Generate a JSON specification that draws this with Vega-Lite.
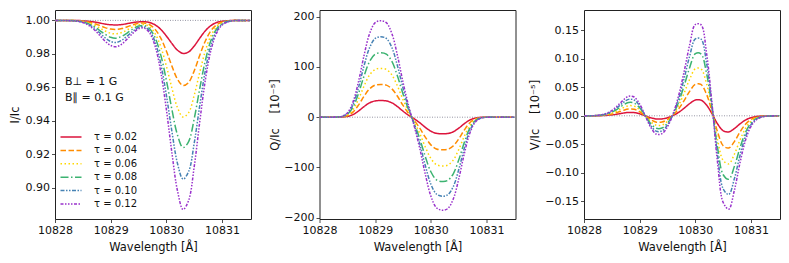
{
"$schema":"https://vega.github.io/schema/vega-lite/v6.json",
"background":"white",
"padding":{"left":8,"top":9,"right":5,"bottom":5},
"config":{
"font":"DejaVu Sans",
"view":{"stroke":"#222","strokeWidth":1},
"axis":{"domain":false,"grid":false,"tickSize":3.5,"tickWidth":0.8,"tickColor":"#222","tickCount":12,"labelFont":"DejaVu Sans","labelFontSize":11,"labelColor":"#111","labelPadding":2,"labelFlush":false,"labelOverlap":false,"titleFont":"DejaVu Sans","titleFontSize":11.5,"titleFontWeight":"normal","titleColor":"#111"},
"axisX":{"titlePadding":6},
"axisY":{"titlePadding":4},
"legend":{"orient":"none","legendX":8,"legendY":119,"title":null,"symbolType":"M-1.5,0H1.5","symbolSize":196,"symbolStrokeWidth":1.5,"labelFont":"DejaVu Sans","labelFontSize":10,"labelColor":"#111","rowPadding":0.4,"labelOffset":15,"padding":0}
},
"datasets":{"d":[
{"x":10828.0,"t":"0.02","I":1,"Q":0,"V":0},{"x":10828.0,"t":"0.04","I":1,"Q":0,"V":0},{"x":10828.0,"t":"0.06","I":1,"Q":0,"V":0},{"x":10828.0,"t":"0.08","I":1,"Q":0,"V":0},{"x":10828.0,"t":"0.10","I":1,"Q":0,"V":0},{"x":10828.0,"t":"0.12","I":1,"Q":0,"V":0},
{"x":10828.1,"t":"0.02","I":1,"Q":0,"V":0},{"x":10828.1,"t":"0.04","I":1,"Q":0,"V":0},{"x":10828.1,"t":"0.06","I":1,"Q":0,"V":0.0001},{"x":10828.1,"t":"0.08","I":1,"Q":0,"V":0.0001},{"x":10828.1,"t":"0.10","I":1,"Q":0,"V":0.0001},{"x":10828.1,"t":"0.12","I":1,"Q":0,"V":0.0001},
{"x":10828.2,"t":"0.02","I":1,"Q":0,"V":0.0001},{"x":10828.2,"t":"0.04","I":1,"Q":0,"V":0.0002},{"x":10828.2,"t":"0.06","I":0.9999,"Q":0,"V":0.0003},{"x":10828.2,"t":"0.08","I":0.9999,"Q":0,"V":0.0003},{"x":10828.2,"t":"0.10","I":0.9999,"Q":0,"V":0.0004},{"x":10828.2,"t":"0.12","I":0.9999,"Q":0,"V":0.0005},
{"x":10828.3,"t":"0.02","I":1,"Q":0,"V":0.0003},{"x":10828.3,"t":"0.04","I":0.9999,"Q":0.1,"V":0.0006},{"x":10828.3,"t":"0.06","I":0.9999,"Q":0.1,"V":0.0008},{"x":10828.3,"t":"0.08","I":0.9999,"Q":0.1,"V":0.0011},{"x":10828.3,"t":"0.10","I":0.9998,"Q":0.1,"V":0.0013},{"x":10828.3,"t":"0.12","I":0.9998,"Q":0.2,"V":0.0016},
{"x":10828.4,"t":"0.02","I":0.9999,"Q":0.3,"V":0.0007},{"x":10828.4,"t":"0.04","I":0.9998,"Q":0.5,"V":0.0014},{"x":10828.4,"t":"0.06","I":0.9997,"Q":0.8,"V":0.0021},{"x":10828.4,"t":"0.08","I":0.9997,"Q":1.1,"V":0.0028},{"x":10828.4,"t":"0.10","I":0.9996,"Q":1.3,"V":0.0035},{"x":10828.4,"t":"0.12","I":0.9995,"Q":1.6,"V":0.0041},
{"x":10828.5,"t":"0.02","I":0.9998,"Q":1.5,"V":0.0016},{"x":10828.5,"t":"0.04","I":0.9996,"Q":2.9,"V":0.0032},{"x":10828.5,"t":"0.06","I":0.9993,"Q":4.3,"V":0.0048},{"x":10828.5,"t":"0.08","I":0.9991,"Q":5.7,"V":0.0063},{"x":10828.5,"t":"0.10","I":0.9989,"Q":7.1,"V":0.0078},{"x":10828.5,"t":"0.12","I":0.9987,"Q":8.5,"V":0.0093},
{"x":10828.6,"t":"0.02","I":0.9995,"Q":5.1,"V":0.0030},{"x":10828.6,"t":"0.04","I":0.9990,"Q":10.1,"V":0.0060},{"x":10828.6,"t":"0.06","I":0.9985,"Q":15.0,"V":0.0090},{"x":10828.6,"t":"0.08","I":0.9980,"Q":19.8,"V":0.0119},{"x":10828.6,"t":"0.10","I":0.9976,"Q":24.7,"V":0.0148},{"x":10828.6,"t":"0.12","I":0.9971,"Q":29.7,"V":0.0175},
{"x":10828.7,"t":"0.02","I":0.9991,"Q":12.2,"V":0.0047},{"x":10828.7,"t":"0.04","I":0.9981,"Q":24.0,"V":0.0094},{"x":10828.7,"t":"0.06","I":0.9972,"Q":35.7,"V":0.0140},{"x":10828.7,"t":"0.08","I":0.9964,"Q":47.1,"V":0.0185},{"x":10828.7,"t":"0.10","I":0.9955,"Q":58.8,"V":0.0229},{"x":10828.7,"t":"0.12","I":0.9946,"Q":70.6,"V":0.0272},
{"x":10828.8,"t":"0.02","I":0.9985,"Q":21.1,"V":0.0059},{"x":10828.8,"t":"0.04","I":0.9970,"Q":41.6,"V":0.0118},{"x":10828.8,"t":"0.06","I":0.9955,"Q":62.0,"V":0.0176},{"x":10828.8,"t":"0.08","I":0.9941,"Q":81.9,"V":0.0233},{"x":10828.8,"t":"0.10","I":0.9926,"Q":102.3,"V":0.0288},{"x":10828.8,"t":"0.12","I":0.9912,"Q":122.8,"V":0.0342},
{"x":10828.9,"t":"0.02","I":0.9978,"Q":28.6,"V":0.0057},{"x":10828.9,"t":"0.04","I":0.9957,"Q":56.4,"V":0.0114},{"x":10828.9,"t":"0.06","I":0.9937,"Q":84.0,"V":0.0170},{"x":10828.9,"t":"0.08","I":0.9917,"Q":110.9,"V":0.0224},{"x":10828.9,"t":"0.10","I":0.9896,"Q":138.5,"V":0.0278},{"x":10828.9,"t":"0.12","I":0.9876,"Q":166.3,"V":0.0330},
{"x":10829.0,"t":"0.02","I":0.9974,"Q":32.4,"V":0.0035},{"x":10829.0,"t":"0.04","I":0.9948,"Q":63.8,"V":0.0071},{"x":10829.0,"t":"0.06","I":0.9923,"Q":95.0,"V":0.0106},{"x":10829.0,"t":"0.08","I":0.9899,"Q":125.5,"V":0.0140},{"x":10829.0,"t":"0.10","I":0.9874,"Q":156.7,"V":0.0174},{"x":10829.0,"t":"0.12","I":0.9850,"Q":188.1,"V":0.0206},
{"x":10829.1,"t":"0.02","I":0.9973,"Q":33.0,"V":0},{"x":10829.1,"t":"0.04","I":0.9946,"Q":65.1,"V":0},{"x":10829.1,"t":"0.06","I":0.9920,"Q":97.0,"V":0},{"x":10829.1,"t":"0.08","I":0.9894,"Q":128.1,"V":0},{"x":10829.1,"t":"0.10","I":0.9868,"Q":159.9,"V":0},{"x":10829.1,"t":"0.12","I":0.9843,"Q":192.0,"V":0},
{"x":10829.2,"t":"0.02","I":0.9975,"Q":32.4,"V":-0.0035},{"x":10829.2,"t":"0.04","I":0.9951,"Q":63.8,"V":-0.0070},{"x":10829.2,"t":"0.06","I":0.9928,"Q":95.0,"V":-0.0105},{"x":10829.2,"t":"0.08","I":0.9905,"Q":125.5,"V":-0.0139},{"x":10829.2,"t":"0.10","I":0.9882,"Q":156.7,"V":-0.0172},{"x":10829.2,"t":"0.12","I":0.9859,"Q":188.1,"V":-0.0204},
{"x":10829.3,"t":"0.02","I":0.9981,"Q":28.6,"V":-0.0055},{"x":10829.3,"t":"0.04","I":0.9962,"Q":56.4,"V":-0.0111},{"x":10829.3,"t":"0.06","I":0.9944,"Q":84.0,"V":-0.0166},{"x":10829.3,"t":"0.08","I":0.9926,"Q":110.9,"V":-0.0219},{"x":10829.3,"t":"0.10","I":0.9908,"Q":138.5,"V":-0.0271},{"x":10829.3,"t":"0.12","I":0.9890,"Q":166.3,"V":-0.0322},
{"x":10829.4,"t":"0.02","I":0.9987,"Q":21.1,"V":-0.0054},{"x":10829.4,"t":"0.04","I":0.9974,"Q":41.6,"V":-0.0108},{"x":10829.4,"t":"0.06","I":0.9961,"Q":62.0,"V":-0.0162},{"x":10829.4,"t":"0.08","I":0.9949,"Q":81.8,"V":-0.0214},{"x":10829.4,"t":"0.10","I":0.9936,"Q":102.2,"V":-0.0265},{"x":10829.4,"t":"0.12","I":0.9924,"Q":122.7,"V":-0.0314},
{"x":10829.5,"t":"0.02","I":0.9991,"Q":11.9,"V":-0.0033},{"x":10829.5,"t":"0.04","I":0.9983,"Q":23.5,"V":-0.0065},{"x":10829.5,"t":"0.06","I":0.9974,"Q":35.0,"V":-0.0097},{"x":10829.5,"t":"0.08","I":0.9966,"Q":46.3,"V":-0.0129},{"x":10829.5,"t":"0.10","I":0.9958,"Q":57.8,"V":-0.0159},{"x":10829.5,"t":"0.12","I":0.9950,"Q":69.4,"V":-0.0189},
{"x":10829.6,"t":"0.02","I":0.9992,"Q":3.8,"V":0.0006},{"x":10829.6,"t":"0.04","I":0.9984,"Q":7.6,"V":0.0012},{"x":10829.6,"t":"0.06","I":0.9976,"Q":11.3,"V":0.0018},{"x":10829.6,"t":"0.08","I":0.9969,"Q":14.9,"V":0.0023},{"x":10829.6,"t":"0.10","I":0.9961,"Q":18.7,"V":0.0029},{"x":10829.6,"t":"0.12","I":0.9954,"Q":22.6,"V":0.0034},
{"x":10829.7,"t":"0.02","I":0.9987,"Q":-3.1,"V":0.0061},{"x":10829.7,"t":"0.04","I":0.9974,"Q":-6.1,"V":0.0123},{"x":10829.7,"t":"0.06","I":0.9962,"Q":-9.2,"V":0.0184},{"x":10829.7,"t":"0.08","I":0.9950,"Q":-12.1,"V":0.0243},{"x":10829.7,"t":"0.10","I":0.9937,"Q":-14.7,"V":0.0301},{"x":10829.7,"t":"0.12","I":0.9925,"Q":-17.2,"V":0.0357},
{"x":10829.8,"t":"0.02","I":0.9973,"Q":-11.0,"V":0.0135},{"x":10829.8,"t":"0.04","I":0.9946,"Q":-21.7,"V":0.0270},{"x":10829.8,"t":"0.06","I":0.9920,"Q":-32.4,"V":0.0404},{"x":10829.8,"t":"0.08","I":0.9895,"Q":-42.8,"V":0.0533},{"x":10829.8,"t":"0.10","I":0.9869,"Q":-52.5,"V":0.0661},{"x":10829.8,"t":"0.12","I":0.9844,"Q":-61.8,"V":0.0784},
{"x":10829.9,"t":"0.02","I":0.9946,"Q":-20.2,"V":0.0216},{"x":10829.9,"t":"0.04","I":0.9894,"Q":-39.7,"V":0.0433},{"x":10829.9,"t":"0.06","I":0.9842,"Q":-59.3,"V":0.0646},{"x":10829.9,"t":"0.08","I":0.9793,"Q":-78.3,"V":0.0853},{"x":10829.9,"t":"0.10","I":0.9741,"Q":-96.1,"V":0.1057},{"x":10829.9,"t":"0.12","I":0.9692,"Q":-113.2,"V":0.1254},
{"x":10830.0,"t":"0.02","I":0.9907,"Q":-27.9,"V":0.0276},{"x":10830.0,"t":"0.04","I":0.9817,"Q":-55.1,"V":0.0553},{"x":10830.0,"t":"0.06","I":0.9728,"Q":-82.2,"V":0.0825},{"x":10830.0,"t":"0.08","I":0.9643,"Q":-108.6,"V":0.1089},{"x":10830.0,"t":"0.10","I":0.9554,"Q":-133.2,"V":0.1350},{"x":10830.0,"t":"0.12","I":0.9469,"Q":-156.9,"V":0.1602},
{"x":10830.1,"t":"0.02","I":0.9862,"Q":-32.1,"V":0.0275},{"x":10830.1,"t":"0.04","I":0.9727,"Q":-63.2,"V":0.0552},{"x":10830.1,"t":"0.06","I":0.9595,"Q":-94.4,"V":0.0823},{"x":10830.1,"t":"0.08","I":0.9468,"Q":-124.6,"V":0.1087},{"x":10830.1,"t":"0.10","I":0.9336,"Q":-152.9,"V":0.1348},{"x":10830.1,"t":"0.12","I":0.9209,"Q":-180.1,"V":0.1599},
{"x":10830.2,"t":"0.02","I":0.9822,"Q":-32.9,"V":0.0190},{"x":10830.2,"t":"0.04","I":0.9649,"Q":-64.9,"V":0.0380},{"x":10830.2,"t":"0.06","I":0.9479,"Q":-96.9,"V":0.0568},{"x":10830.2,"t":"0.08","I":0.9316,"Q":-128.0,"V":0.0749},{"x":10830.2,"t":"0.10","I":0.9146,"Q":-157.1,"V":0.0929},{"x":10830.2,"t":"0.12","I":0.8983,"Q":-185.0,"V":0.1102},
{"x":10830.3,"t":"0.02","I":0.9803,"Q":-32.4,"V":0.0035},{"x":10830.3,"t":"0.04","I":0.9611,"Q":-64.0,"V":0.0070},{"x":10830.3,"t":"0.06","I":0.9423,"Q":-95.5,"V":0.0104},{"x":10830.3,"t":"0.08","I":0.9241,"Q":-126.1,"V":0.0137},{"x":10830.3,"t":"0.10","I":0.9053,"Q":-154.7,"V":0.0170},{"x":10830.3,"t":"0.12","I":0.8872,"Q":-182.2,"V":0.0202},
{"x":10830.4,"t":"0.02","I":0.9812,"Q":-29.1,"V":-0.0143},{"x":10830.4,"t":"0.04","I":0.9630,"Q":-57.3,"V":-0.0287},{"x":10830.4,"t":"0.06","I":0.9450,"Q":-85.6,"V":-0.0428},{"x":10830.4,"t":"0.08","I":0.9277,"Q":-113.1,"V":-0.0566},{"x":10830.4,"t":"0.10","I":0.9098,"Q":-138.7,"V":-0.0701},{"x":10830.4,"t":"0.12","I":0.8926,"Q":-163.4,"V":-0.0832},
{"x":10830.5,"t":"0.02","I":0.9847,"Q":-21.9,"V":-0.0262},{"x":10830.5,"t":"0.04","I":0.9699,"Q":-43.3,"V":-0.0525},{"x":10830.5,"t":"0.06","I":0.9553,"Q":-64.6,"V":-0.0783},{"x":10830.5,"t":"0.08","I":0.9413,"Q":-85.3,"V":-0.1034},{"x":10830.5,"t":"0.10","I":0.9267,"Q":-104.6,"V":-0.1282},{"x":10830.5,"t":"0.12","I":0.9127,"Q":-123.2,"V":-0.1521},
{"x":10830.6,"t":"0.02","I":0.9894,"Q":-13.0,"V":-0.0282},{"x":10830.6,"t":"0.04","I":0.9792,"Q":-25.6,"V":-0.0565},{"x":10830.6,"t":"0.06","I":0.9691,"Q":-38.2,"V":-0.0843},{"x":10830.6,"t":"0.08","I":0.9594,"Q":-50.4,"V":-0.1113},{"x":10830.6,"t":"0.10","I":0.9493,"Q":-61.9,"V":-0.1380},{"x":10830.6,"t":"0.12","I":0.9396,"Q":-72.9,"V":-0.1637},
{"x":10830.7,"t":"0.02","I":0.9938,"Q":-5.6,"V":-0.0225},{"x":10830.7,"t":"0.04","I":0.9877,"Q":-11.1,"V":-0.0452},{"x":10830.7,"t":"0.06","I":0.9818,"Q":-16.6,"V":-0.0675},{"x":10830.7,"t":"0.08","I":0.9760,"Q":-21.9,"V":-0.0891},{"x":10830.7,"t":"0.10","I":0.9701,"Q":-26.9,"V":-0.1104},{"x":10830.7,"t":"0.12","I":0.9644,"Q":-31.7,"V":-0.1310},
{"x":10830.8,"t":"0.02","I":0.9969,"Q":-1.7,"V":-0.0143},{"x":10830.8,"t":"0.04","I":0.9938,"Q":-3.3,"V":-0.0287},{"x":10830.8,"t":"0.06","I":0.9908,"Q":-5.0,"V":-0.0428},{"x":10830.8,"t":"0.08","I":0.9880,"Q":-6.6,"V":-0.0566},{"x":10830.8,"t":"0.10","I":0.9850,"Q":-8.1,"V":-0.0701},{"x":10830.8,"t":"0.12","I":0.9821,"Q":-9.5,"V":-0.0832},
{"x":10830.9,"t":"0.02","I":0.9987,"Q":-0.3,"V":-0.0074},{"x":10830.9,"t":"0.04","I":0.9973,"Q":-0.7,"V":-0.0149},{"x":10830.9,"t":"0.06","I":0.9961,"Q":-1.0,"V":-0.0222},{"x":10830.9,"t":"0.08","I":0.9948,"Q":-1.3,"V":-0.0293},{"x":10830.9,"t":"0.10","I":0.9935,"Q":-1.6,"V":-0.0363},{"x":10830.9,"t":"0.12","I":0.9923,"Q":-1.9,"V":-0.0431},
{"x":10831.0,"t":"0.02","I":0.9995,"Q":0,"V":-0.0032},{"x":10831.0,"t":"0.04","I":0.9990,"Q":-0.1,"V":-0.0063},{"x":10831.0,"t":"0.06","I":0.9986,"Q":-0.1,"V":-0.0095},{"x":10831.0,"t":"0.08","I":0.9981,"Q":-0.2,"V":-0.0125},{"x":10831.0,"t":"0.10","I":0.9976,"Q":-0.2,"V":-0.0155},{"x":10831.0,"t":"0.12","I":0.9972,"Q":-0.2,"V":-0.0184},
{"x":10831.1,"t":"0.02","I":0.9998,"Q":0,"V":-0.0011},{"x":10831.1,"t":"0.04","I":0.9997,"Q":0,"V":-0.0023},{"x":10831.1,"t":"0.06","I":0.9995,"Q":0,"V":-0.0034},{"x":10831.1,"t":"0.08","I":0.9994,"Q":0,"V":-0.0045},{"x":10831.1,"t":"0.10","I":0.9992,"Q":0,"V":-0.0056},{"x":10831.1,"t":"0.12","I":0.9991,"Q":0,"V":-0.0066},
{"x":10831.2,"t":"0.02","I":1,"Q":0,"V":-0.0003},{"x":10831.2,"t":"0.04","I":0.9999,"Q":0,"V":-0.0007},{"x":10831.2,"t":"0.06","I":0.9999,"Q":0,"V":-0.0010},{"x":10831.2,"t":"0.08","I":0.9999,"Q":0,"V":-0.0014},{"x":10831.2,"t":"0.10","I":0.9998,"Q":0,"V":-0.0017},{"x":10831.2,"t":"0.12","I":0.9998,"Q":0,"V":-0.0020},
{"x":10831.3,"t":"0.02","I":1,"Q":0,"V":-0.0001},{"x":10831.3,"t":"0.04","I":1,"Q":0,"V":-0.0002},{"x":10831.3,"t":"0.06","I":0.9999,"Q":0,"V":-0.0003},{"x":10831.3,"t":"0.08","I":0.9999,"Q":0,"V":-0.0003},{"x":10831.3,"t":"0.10","I":0.9999,"Q":0,"V":-0.0004},{"x":10831.3,"t":"0.12","I":0.9999,"Q":0,"V":-0.0005},
{"x":10831.4,"t":"0.02","I":1,"Q":0,"V":0},{"x":10831.4,"t":"0.04","I":1,"Q":0,"V":0},{"x":10831.4,"t":"0.06","I":1,"Q":0,"V":-0.0001},{"x":10831.4,"t":"0.08","I":1,"Q":0,"V":-0.0001},{"x":10831.4,"t":"0.10","I":1,"Q":0,"V":-0.0001},{"x":10831.4,"t":"0.12","I":1,"Q":0,"V":-0.0001},
{"x":10831.5,"t":"0.02","I":1,"Q":0,"V":0},{"x":10831.5,"t":"0.04","I":1,"Q":0,"V":0},{"x":10831.5,"t":"0.06","I":1,"Q":0,"V":0},{"x":10831.5,"t":"0.08","I":1,"Q":0,"V":0},{"x":10831.5,"t":"0.10","I":1,"Q":0,"V":0},{"x":10831.5,"t":"0.12","I":1,"Q":0,"V":0}
]},
"spacing":68.5,
"bounds":"flush",
"hconcat":[
{"width":196,"height":209,
"layer":[
{"data":{"name":"d"},"mark":{"type":"line","interpolate":"catmull-rom","strokeWidth":1.5,"clip":true},
"encoding":{
"x":{"field":"x","type":"quantitative","scale":{"domain":[10828,10831.52],"nice":false,"zero":false},"axis":{"values":[10828,10829,10830,10831],"format":"d","title":"Wavelength [Å]","labelOverlap":false,"tickCount":12}},
"y":{"field":"I","type":"quantitative","scale":{"domain":[0.8815,1.0062],"nice":false,"zero":false},"axis":{"values":[0.90,0.92,0.94,0.96,0.98,1.00],"format":".2f","title":"I/Ic","titlePadding":5,"labelOverlap":false,"tickCount":12}},
"color":{"field":"t","type":"nominal","scale":{"domain":["0.02","0.04","0.06","0.08","0.10","0.12"],"range":["#DC143C","#FF8C00","#FFD700","#3CB371","#4682B4","#9932CC"]},"legend":{"labelExpr":"'τ = ' + datum.label"}},
"strokeDash":{"field":"t","type":"nominal","scale":{"domain":["0.02","0.04","0.06","0.08","0.10","0.12"],"range":[[1,0],[5.5,2.5],[1.5,2.5],[8,2.5,1.5,2.5],[4,1.5,1.5,1.5,1.5,1.5],[3,1.5,1.5,1.5,1.5,1.5,1.5,1.5]]},"legend":{"labelExpr":"'τ = ' + datum.label"}}
}},
{"data":{"values":[{}]},"mark":{"type":"rule","color":"#8a8a9a","strokeDash":[1,1.5],"strokeWidth":0.9},"encoding":{"y":{"datum":1}}},
{"data":{"values":[{}]},"mark":{"type":"text","align":"left","baseline":"middle","fontSize":11,"font":"DejaVu Sans","color":"#111"},"encoding":{"x":{"datum":10828.18},"y":{"datum":0.963},"text":{"value":"B⊥ = 1 G"}}},
{"data":{"values":[{}]},"mark":{"type":"text","align":"left","baseline":"middle","fontSize":11,"font":"DejaVu Sans","color":"#111"},"encoding":{"x":{"datum":10828.18},"y":{"datum":0.9535},"text":{"value":"B∥ = 0.1 G"}}}
]},
{"width":196,"height":209,
"layer":[
{"data":{"name":"d"},"mark":{"type":"line","interpolate":"catmull-rom","strokeWidth":1.5,"clip":true},
"encoding":{
"x":{"field":"x","type":"quantitative","scale":{"domain":[10828,10831.52],"nice":false,"zero":false},"axis":{"values":[10828,10829,10830,10831],"format":"d","title":"Wavelength [Å]","labelOverlap":false,"tickCount":12}},
"y":{"field":"Q","type":"quantitative","scale":{"domain":[-202.6,213.3],"nice":false,"zero":false},"axis":{"values":[-200,-100,0,100,200],"format":"d","labelExpr":"replace(datum.label, '-', '−')","title":"Q/Ic\u00a0\u00a0\u00a0\u00a0[10⁻⁵]","titlePadding":3,"labelOverlap":false,"tickCount":12}},
"color":{"field":"t","type":"nominal"},
"strokeDash":{"field":"t","type":"nominal"}
}},
{"data":{"values":[{}]},"mark":{"type":"rule","color":"#8a8a9a","strokeDash":[1,1.5],"strokeWidth":0.9},"encoding":{"y":{"datum":0}}}
]},
{"width":196,"height":209,
"layer":[
{"data":{"name":"d"},"mark":{"type":"line","interpolate":"catmull-rom","strokeWidth":1.5,"clip":true},
"encoding":{
"x":{"field":"x","type":"quantitative","scale":{"domain":[10828,10831.52],"nice":false,"zero":false},"axis":{"values":[10828,10829,10830,10831],"format":"d","title":"Wavelength [Å]","labelOverlap":false,"tickCount":12}},
"y":{"field":"V","type":"quantitative","scale":{"domain":[-0.181,0.1856],"nice":false,"zero":false},"axis":{"values":[-0.15,-0.10,-0.05,0,0.05,0.10,0.15],"format":".2f","labelExpr":"replace(datum.label, '-', '−')","title":"V/Ic\u00a0\u00a0\u00a0\u00a0[10⁻⁵]","titlePadding":4,"labelOverlap":false,"tickCount":12}},
"color":{"field":"t","type":"nominal"},
"strokeDash":{"field":"t","type":"nominal"}
}},
{"data":{"values":[{}]},"mark":{"type":"rule","color":"#8a8a9a","strokeDash":[1,1.5],"strokeWidth":0.9},"encoding":{"y":{"datum":0}}}
]}
]
}
